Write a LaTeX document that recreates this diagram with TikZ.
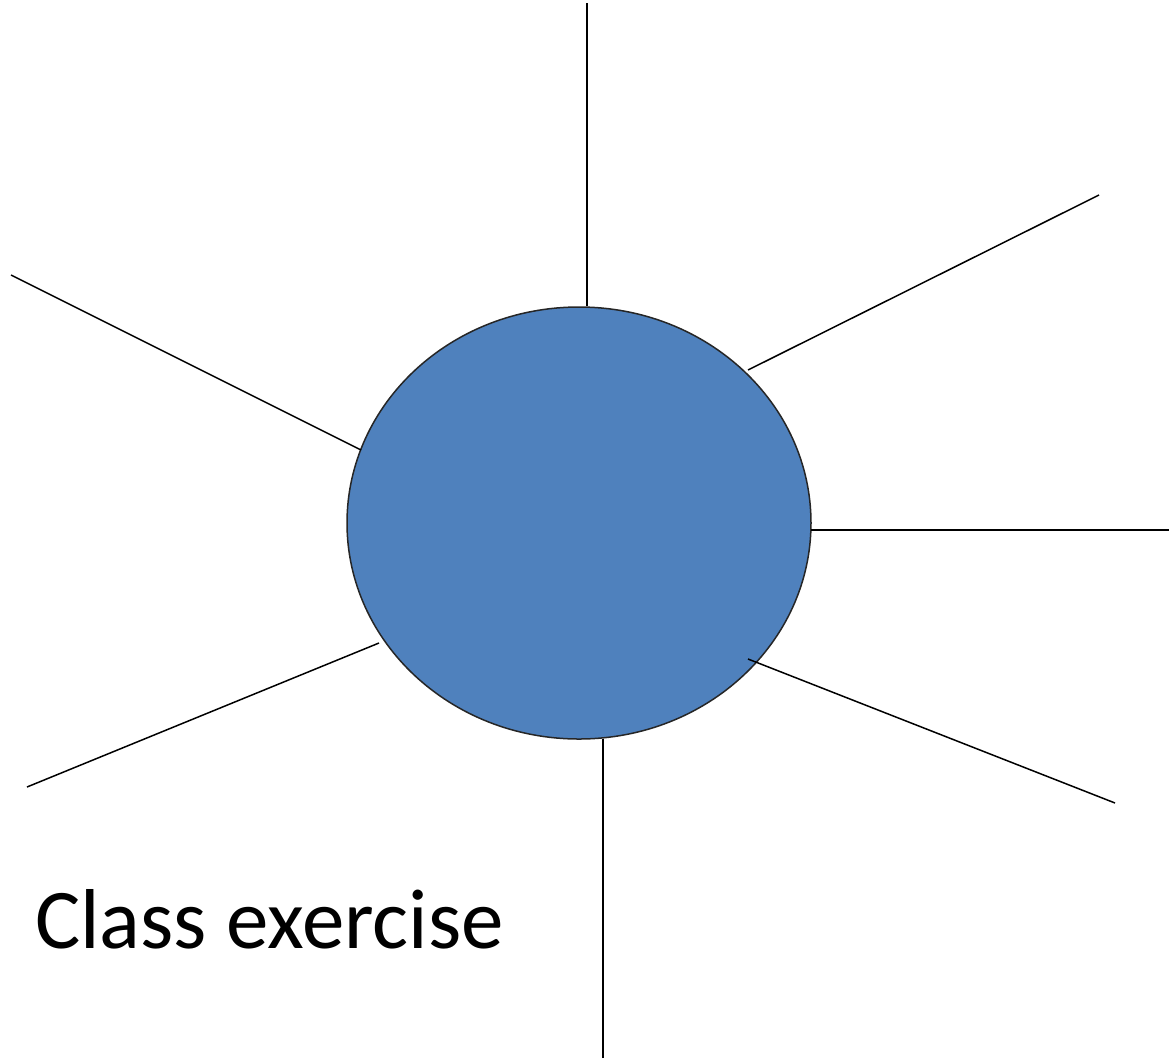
\documentclass[tikz,border=0pt]{standalone}
\usepackage{fontspec}
\setmainfont{Carlito}
\usetikzlibrary{shapes.geometric}
\definecolor{hubblue}{HTML}{4F81BD}
\begin{document}
\begin{tikzpicture}[x=1pt,y=-1pt,
  spoke/.style={draw=black,line width=1.5pt},
  hub/.style={ellipse,draw=black!85,line width=1.5pt,fill=hubblue,minimum width=464pt,minimum height=432pt,inner sep=0pt}]
\useasboundingbox (0,0) rectangle (1169,1058);
\node[hub] (hub) at (579,523) {};
\coordinate (t1) at (587,3);    \coordinate (t2) at (587,306);
\coordinate (ur1) at (1099,195); \coordinate (ur2) at (748,370);
\coordinate (r1) at (1169,530);  \coordinate (r2) at (811,530);
\coordinate (lr1) at (1115,803); \coordinate (lr2) at (748,659);
\coordinate (b1) at (603,1058);  \coordinate (b2) at (603,739);
\coordinate (ll1) at (27,787);   \coordinate (ll2) at (379,643);
\coordinate (ul1) at (11,275);   \coordinate (ul2) at (361,450);
\draw[spoke] (t1) -- (t2);
\draw[spoke] (ur1) -- (ur2);
\draw[spoke] (r1) -- (r2);
\draw[spoke] (lr1) -- (lr2);
\draw[spoke] (b1) -- (b2);
\draw[spoke] (ll1) -- (ll2);
\draw[spoke] (ul1) -- (ul2);
\node[anchor=base west,inner sep=0pt,font=\fontsize{85}{100}\selectfont] (label) at (35,948) {Class exercise};
\end{tikzpicture}
\end{document}
